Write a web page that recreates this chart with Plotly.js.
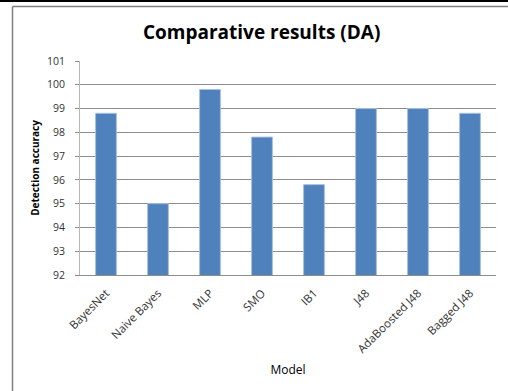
<!DOCTYPE html>
<html><head><meta charset="utf-8">
<script src="https://cdn.plot.ly/plotly-3.0.1.min.js"></script>
<style>html,body{margin:0;padding:0;background:#fff;}#c{width:508px;height:391px;}</style>
</head><body><div id="c"></div>
<script>
const models = ["BayesNet","Naive Bayes","MLP","SMO","IB1","J48","AdaBoosted J48","Bagged J48"];
const accuracy = [98.8, 95.0, 99.8, 97.8, 95.8, 99.0, 99.0, 98.8];
const yTicks = [92,93,94,95,96,97,98,99,100,101];

const font = "Open Sans, Noto Sans, sans-serif";
const trace = {
  type: "bar", x: models, y: accuracy,
  marker: {color: "#4f81bd", line: {color: "#a7c0de", width: 1}},
  hoverinfo: "skip"
};
// pixel helpers for decorative frame (plot area: x 80..496, y 61..275)
const px = v => (v - 80) / 416;
const py = v => (275 - v) / 214;
const shapes = [
  {type:"line", xref:"paper", yref:"paper", x0:px(12.5), x1:px(12.5), y0:py(6.5), y1:py(395), line:{color:"#7f7f7f", width:1.5}},
  {type:"line", xref:"paper", yref:"paper", x0:px(12.5), x1:px(510), y0:py(6.5), y1:py(6.5), line:{color:"#7f7f7f", width:1.5}},
  {type:"line", xref:"paper", yref:"paper", x0:px(-2), x1:px(510), y0:py(1), y1:py(1), line:{color:"#000", width:2}}
];
[98, 147, 188, 311, 378, 441, 497].forEach(t => shapes.push(
  {type:"line", xref:"paper", yref:"paper", x0:px(t), x1:px(t), y0:py(-1), y1:py(1), line:{color:"#000", width:1.5}}
));
const layout = {
  width: 508, height: 391,
  margin: {l: 80, r: 12, t: 61, b: 116},
  paper_bgcolor: "#fff", plot_bgcolor: "#fff",
  title: {text: "<b>Comparative results (DA)</b>", x: 0.515, xanchor: "center", y: 0.918, yanchor: "middle",
          font: {family: font, size: 19, color: "#000"}},
  bargap: 0.6,
  showlegend: false,
  xaxis: {
    tickangle: -45, tickfont: {family: font, size: 11.5, color: "#333"},
    ticklabelstandoff: 6,
    showline: true, linecolor: "#8c8c8c", linewidth: 1, ticks: "", showgrid: false,
    title: {text: "Model", font: {family: font, size: 12, color: "#000"}, standoff: 10}
  },
  yaxis: {
    range: [92, 101], tickvals: yTicks, ticks: "outside", ticklen: 4, tickcolor: "#8c8c8c",
    ticklabelstandoff: 8,
    showline: true, linecolor: "#b8b8b8", linewidth: 1,
    showgrid: true, gridcolor: "#8c8c8c", gridwidth: 1, zeroline: false,
    tickfont: {family: font, size: 10.5, color: "#333"},
    title: {text: "<b>Detection accuracy</b>", font: {family: font, size: 10, color: "#000"}, standoff: 5}
  },
  shapes: shapes
};
Plotly.newPlot("c", [trace], layout, {displayModeBar: false, staticPlot: true});
</script></body></html>
